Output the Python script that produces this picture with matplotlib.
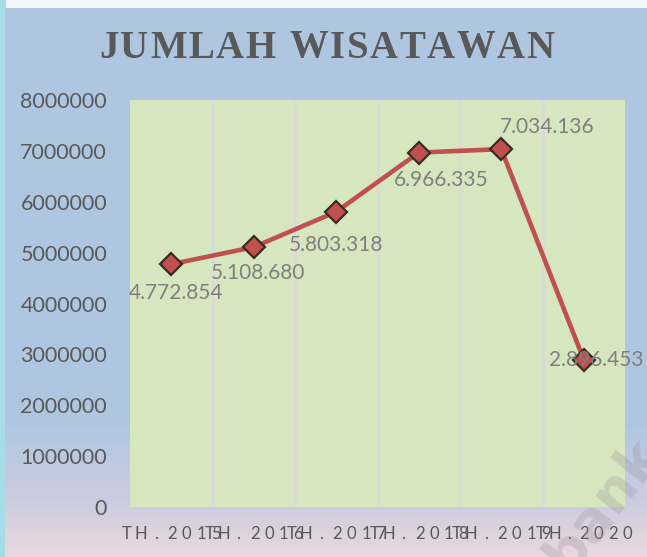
import matplotlib.pyplot as plt
import matplotlib.transforms as mtransforms
from matplotlib.font_manager import FontProperties
import numpy as np

# data
years = ['TH. 2015', 'TH. 2016', 'TH. 2017', 'TH. 2018', 'TH. 2019', 'TH.2020']
visitors = [4772854, 5108680, 5803318, 6966335, 7034136, 2896453]
value_labels = ['4.772.854', '5.108.680', '5.803.318',
                '6.966.335', '7.034.136', '2.896.453']
label_offsets = [(5, -29), (4, -26), (0, -33), (22, -27), (46, 22), (12, 0)]
yticks = [0, 1000000, 2000000, 3000000, 4000000, 5000000, 6000000, 7000000, 8000000]
title = 'JUMLAH WISATAWAN'

W, H = 647, 557
fig = plt.figure(figsize=(W / 100, H / 100), dpi=100)
fig.patch.set_facecolor('#F4F8FA')
renderer = fig.canvas.get_renderer()

# chart background with blue -> pink gradient at the bottom
bg = fig.add_axes([5 / W, 0, 1 - 5 / W, 1 - 8 / H])
bg.set_zorder(-2)
t = np.linspace(0, 1, 300)
top = np.array([0.690, 0.780, 0.882])
mid = np.array([0.800, 0.800, 0.880])
bot = np.array([0.915, 0.845, 0.870])
grad = np.zeros((300, 1, 3))
for i, v in enumerate(t):
    # v = 0 at top, 1 at bottom
    if v < 0.76:
        c = top
    elif v < 0.9:
        f = (v - 0.76) / 0.14
        c = top * (1 - f) + mid * f
    else:
        f = (v - 0.9) / 0.1
        c = mid * (1 - f) + bot * f
    grad[i, 0] = c
bg.imshow(grad, aspect='auto', extent=[0, 1, 0, 1])
bg.set_xlim(0, 1)
bg.set_ylim(0, 1)
bg.axis('off')
fig.patches.append(plt.Rectangle((0, 0), 5 / W, 1, transform=fig.transFigure,
                                 color='#A6DCE6', zorder=-3))

# watermark
fig.text(603 / W, 1 - 505 / H, 'bank', fontsize=40, color='#9A8F9A', alpha=0.28,
         rotation=52, ha='center', va='center', fontweight='bold')

ax = fig.add_axes([130 / W, 1 - 507 / H, 495 / W, 407 / H])
ax.set_facecolor('#D6E7C0')
x = np.arange(len(visitors))
ax.plot(x, visitors, color='#C0504D', linewidth=3.3, marker='D', markersize=11,
        markerfacecolor='#C0504D', markeredgecolor='#3B2A22', markeredgewidth=1.6,
        zorder=3)

for xi, v, lab, (dx, dy) in zip(x, visitors, value_labels, label_offsets):
    ax.annotate(lab, (xi, v), xytext=(dx, dy), textcoords='offset pixels',
                ha='center', va='center', fontsize=15, color='#7F7F7F',
                family='Lato', zorder=4)

ax.set_xlim(-0.5, len(visitors) - 0.5)
ax.set_ylim(0, 8000000)
ax.set_xticks(x)
ax.set_xticklabels([])
ax.set_xticks(np.arange(0.5, len(visitors) - 0.5, 1), minor=True)
ax.grid(True, which='minor', axis='x', color='#D9D9D9', linewidth=1.8)
ax.tick_params(axis='x', which='both', length=0)
ax.set_yticks(yticks)
ax.set_yticklabels([str(v) for v in yticks], fontsize=15.5, color='#595959', family='Lato')
ax.tick_params(axis='y', length=0, pad=16.5)
for s in ax.spines.values():
    s.set_visible(False)

# category labels with wide, fixed letter advance (they overlap as in the source)
step = 14.5
xaxis_tr = ax.get_xaxis_transform()
for xi, lab in zip(x, years):
    chars = [ch for ch in lab if ch != ' ']
    gap_after = 2 if ' ' in lab else None
    n = len(chars)
    for j, ch in enumerate(chars):
        dx = (j - (n - 1) / 2) * step
        if gap_after is not None:
            dx += 2 if j > gap_after else 0
            dx -= 1
        tr = mtransforms.offset_copy(xaxis_tr, fig=fig, x=dx, y=-27, units='dots')
        ax.text(xi, 0, ch, transform=tr, ha='center', va='center', fontsize=12,
                color='#595959', family='Lato', clip_on=False)

# title, letter-spaced
tprop = FontProperties(family='Liberation Serif', weight='bold', size=28)
extra = 1.6
widths = [renderer.get_text_width_height_descent(ch if ch != ' ' else 'i', tprop, ismath=False)[0]
          for ch in title]
total = sum(widths) + extra * (len(title) - 1)
xpos = 327 - total / 2
for ch, w in zip(title, widths):
    if ch != ' ':
        fig.text(xpos / W, 1 - 48 / H, ch, fontproperties=tprop, color='#595959',
                 ha='left', va='center')
    xpos += w + extra

fig.savefig('out.png', dpi=100, facecolor=fig.get_facecolor())
